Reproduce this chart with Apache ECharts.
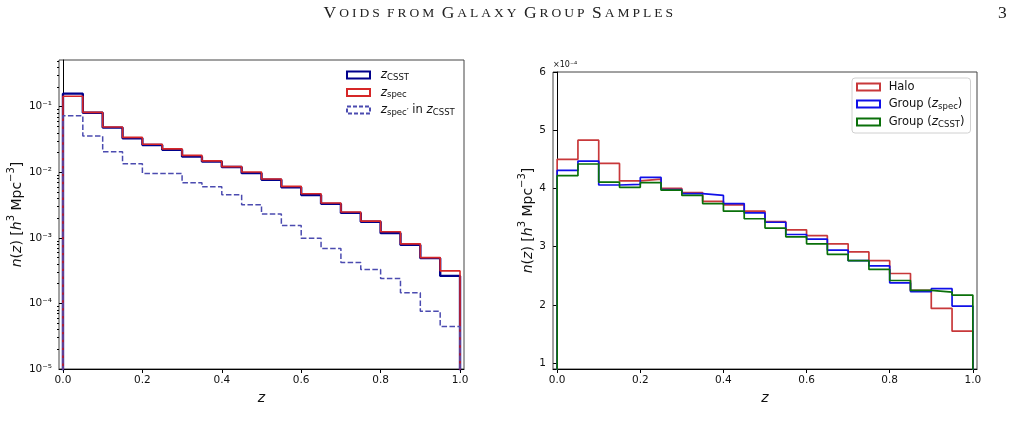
<!DOCTYPE html>
<html>
<head>
<meta charset="utf-8">
<script src="https://cdn.jsdelivr.net/npm/echarts@6/dist/echarts.min.js"></script>
<style>
  html, body { margin: 0; padding: 0; background: #fff; }
  #chart { width: 1017px; height: 436px; }
</style>
</head>
<body>
<div id="chart"></div>
<script>
// histogram bin edges (z)
const binEdges = [0, 0.05, 0.1, 0.15, 0.2, 0.25, 0.3, 0.35, 0.4, 0.45, 0.5,
                  0.55, 0.6, 0.65, 0.7, 0.75, 0.8, 0.85, 0.9, 0.95, 1.0];

// left panel, n(z) in h^3 Mpc^-3
const nCSST = [0.158, 0.081, 0.048, 0.033, 0.026, 0.022, 0.0173, 0.0146, 0.0120, 0.0097,
               0.0077, 0.0059, 0.0045, 0.0033, 0.0024, 0.00176, 0.00118, 0.00078, 0.00049, 0.000263];
const nSpec = [0.144, 0.082, 0.049, 0.034, 0.0267, 0.0227, 0.0181, 0.0149, 0.0122, 0.0101,
               0.0079, 0.0061, 0.0047, 0.0034, 0.00248, 0.0018, 0.00124, 0.00081, 0.00050, 0.000313];
const nSpecInCSST = [0.073, 0.0357, 0.0206, 0.0135, 0.0096, 0.0096, 0.0069, 0.0060, 0.00456, 0.0032,
                     0.00231, 0.00154, 0.00099, 0.00069, 0.00042, 0.00033, 0.000239, 0.000145, 0.000076, 0.0000443];

// right panel, n(z) in units of 1e-4 h^3 Mpc^-3
const nHalo = [4.50, 4.83, 4.43, 4.13, 4.16, 4.00, 3.93, 3.78, 3.72, 3.61,
               3.43, 3.29, 3.19, 3.05, 2.91, 2.76, 2.54, 2.25, 1.94, 1.55];
const nGroupSpec = [4.31, 4.47, 4.06, 4.07, 4.19, 3.98, 3.91, 3.88, 3.74, 3.58,
                    3.42, 3.21, 3.13, 2.94, 2.76, 2.67, 2.38, 2.23, 2.28, 1.98];
const nGroupCSST = [4.22, 4.42, 4.11, 4.02, 4.10, 3.97, 3.88, 3.74, 3.61, 3.48,
                    3.32, 3.17, 3.05, 2.87, 2.76, 2.61, 2.42, 2.25, 2.22, 2.17];

// ticks
const xTicks = [0, 0.2, 0.4, 0.6, 0.8, 1.0];
const logTicks = [1e-5, 1e-4, 1e-3, 1e-2, 1e-1];
const logMinorTicks = [];
for (let e = -5; e <= -1; e++) {
  for (let k = 2; k <= 9; k++) logMinorTicks.push(k * Math.pow(10, e));
}
const linTicks = [1, 2, 3, 4, 5, 6];

const headerText = 'Voids from Galaxy Group Samples';

// step outline of a histogram (matplotlib histtype='step')
function stepData(vals, floor) {
  const d = [[binEdges[0], floor]];
  vals.forEach((v, i) => d.push([binEdges[i], v]));
  const last = binEdges[vals.length];
  d.push([last, vals[vals.length - 1]]);
  d.push([last, floor]);
  return d;
}

const SUP = {'-': '\u207B', '0': '\u2070', '1': '\u00B9', '2': '\u00B2', '3': '\u00B3',
             '4': '\u2074', '5': '\u2075', '6': '\u2076', '7': '\u2077', '8': '\u2078', '9': '\u2079'};
function pow10Label(v) {
  const e = String(Math.round(Math.log10(v)));
  return '10' + e.split('').map(c => SUP[c]).join('');
}

// small caps header built from per-letter tokens
function smallCaps(s) {
  return s.split('').map(c => {
    if (c === ' ') return '{W| }';
    if (c === c.toUpperCase()) return '{L|' + c + '}';
    return '{S|' + c.toUpperCase() + '}';
  }).join('');
}

const FONT = 'DejaVu Sans';
const tickLabel = {fontFamily: FONT, fontSize: 10.5, color: '#111'};

const legendRich = {
  i: {fontFamily: FONT, fontStyle: 'italic', fontSize: 12, lineHeight: 14, verticalAlign: 'middle', color: '#111'},
  s: {fontFamily: FONT, fontSize: 8.5, lineHeight: 9, verticalAlign: 'bottom', color: '#111'},
  t: {fontFamily: FONT, fontSize: 11.5, lineHeight: 14, verticalAlign: 'middle', color: '#111'}
};
const legendNames = {
  zCSST: '{t|\u2002}{i|z}{s|CSST}',
  zSpec: '{t|\u2002}{i|z}{s|spec}',
  zSpecIn: '{t|\u2002}{i|z}{s|spec\u2032}{t| in }{i|z}{s|CSST}',
  Halo: '{t| Halo}',
  GroupSpec: '{t| Group (}{i|z}{s|spec}{t|)}',
  GroupCSST: '{t| Group (}{i|z}{s|CSST}{t|)}'
};

const yNameRich = {
  i: {fontFamily: FONT, fontStyle: 'italic', fontSize: 14, lineHeight: 18, verticalAlign: 'bottom', color: '#111'},
  t: {fontFamily: FONT, fontSize: 14, lineHeight: 18, verticalAlign: 'bottom', color: '#111'},
  p: {fontFamily: FONT, fontSize: 10, lineHeight: 11, verticalAlign: 'top', color: '#111'}
};
const yName = '{i|n}{t|(}{i|z}{t|) [}{i|h}{p|3}{t| Mpc}{p|\u22123}{t|]}';

function xAxisCfg(grid) {
  return {
    type: 'value', gridIndex: grid, min: -0.01, max: 1.01,
    name: 'z', nameLocation: 'middle', nameGap: 19,
    nameTextStyle: {fontFamily: FONT, fontStyle: 'italic', fontSize: 14, color: '#111'},
    axisLine: {lineStyle: {color: '#000', width: 1}},
    axisTick: {customValues: xTicks, length: 4, lineStyle: {color: '#000'}},
    axisLabel: Object.assign({customValues: xTicks, margin: 6, formatter: v => v.toFixed(1)}, tickLabel),
    splitLine: {show: false}
  };
}

function line(name, vals, floor, color, width, xi, yi, dashed) {
  return {
    name: name, type: 'line', xAxisIndex: xi, yAxisIndex: yi,
    data: stepData(vals, floor), step: 'end', showSymbol: false, symbol: 'none',
    clip: true, silent: true, animation: false,
    lineStyle: {color: color, width: width, type: dashed ? [5.5, 2.4] : 'solid'},
    itemStyle: {color: color}
  };
}

function legendItem(name, color, dashed) {
  return {name: name, icon: 'rect',
          itemStyle: {color: 'rgba(255,255,255,0)', borderColor: color, borderWidth: 2,
                      borderType: dashed ? [4, 2] : 'solid'}};
}

const headStyle = {fontFamily: 'Liberation Serif', fontWeight: 'normal', lineHeight: 20, color: '#222'};

const chart = echarts.init(document.getElementById('chart'), null, {renderer: 'canvas'});

chart.setOption({
  animation: false,
  title: [
    {text: smallCaps(headerText), left: 322, top: 3, padding: 0,
     textStyle: {fontWeight: 'normal', rich: {
       L: Object.assign({fontSize: 17.5, padding: [0, 1.5, 0, 1.5]}, headStyle),
       S: Object.assign({fontSize: 13.5, padding: [0, 1.5, 0, 1.5]}, headStyle),
       W: Object.assign({fontSize: 17.5}, headStyle)
     }}},
    {text: '3', left: 998, top: 3, padding: 0,
     textStyle: Object.assign({fontSize: 17.5}, headStyle)}
  ],
  grid: [
    {left: 59, top: 60, width: 405, height: 309, show: true, borderColor: '#444', borderWidth: 1, backgroundColor: '#fff'},
    {left: 553, top: 72, width: 424, height: 297, show: true, borderColor: '#444', borderWidth: 1, backgroundColor: '#fff'}
  ],
  xAxis: [xAxisCfg(0), xAxisCfg(1)],
  yAxis: [
    {
      type: 'log', logBase: 10, gridIndex: 0, position: 'left', min: 1e-5, max: 0.515,
      name: yName, nameLocation: 'middle', nameGap: 35, nameRotate: 90,
      nameTextStyle: {rich: yNameRich},
      axisLine: {lineStyle: {color: '#000', width: 1}},
      axisTick: {customValues: logTicks, length: 4, lineStyle: {color: '#000'}},
      axisLabel: Object.assign({customValues: logTicks, margin: 7, formatter: pow10Label}, tickLabel),
      splitLine: {show: false}, minorTick: {show: false}
    },
    {
      type: 'log', logBase: 10, gridIndex: 0, position: 'left', min: 1e-5, max: 0.515,
      axisLine: {show: false},
      axisTick: {customValues: logMinorTicks, length: 2, lineStyle: {color: '#000'}},
      axisLabel: {show: false}, splitLine: {show: false}
    },
    {
      type: 'value', gridIndex: 1, position: 'left', min: 0.9, max: 6,
      name: yName, nameLocation: 'middle', nameGap: 18, nameRotate: 90,
      nameTextStyle: {rich: yNameRich},
      axisLine: {lineStyle: {color: '#000', width: 1}},
      axisTick: {customValues: linTicks, length: 4, lineStyle: {color: '#000'}},
      axisLabel: Object.assign({customValues: linTicks, margin: 7}, tickLabel),
      splitLine: {show: false}
    },
    {
      type: 'value', gridIndex: 1, position: 'left', min: 0.9, max: 6,
      name: '\u00D710\u207B\u2074', nameLocation: 'end', nameGap: 3,
      nameTextStyle: {fontFamily: FONT, fontSize: 8, color: '#111', align: 'left', verticalAlign: 'bottom'},
      axisLine: {show: false}, axisTick: {show: false}, axisLabel: {show: false}, splitLine: {show: false}
    }
  ],
  legend: [
    {
      left: 346, top: 69, orient: 'vertical', itemWidth: 23, itemHeight: 7, itemGap: 4.5,
      padding: 0, selectedMode: false,
      formatter: n => legendNames[n],
      textStyle: {rich: legendRich},
      data: [legendItem('zCSST', '#00008b'), legendItem('zSpec', '#d62728'),
             legendItem('zSpecIn', '#4b4bb0', true)]
    },
    {
      left: 852, top: 78, orient: 'vertical', itemWidth: 23, itemHeight: 7, itemGap: 5,
      padding: [3, 6, 4, 4], selectedMode: false,
      backgroundColor: 'rgba(255,255,255,0.8)', borderColor: '#d0d0d0', borderWidth: 1, borderRadius: 3,
      formatter: n => legendNames[n],
      textStyle: {rich: legendRich},
      data: [legendItem('Halo', '#c8383a'), legendItem('GroupSpec', '#1010e8'),
             legendItem('GroupCSST', '#0a700a')]
    }
  ],
  series: [
    line('zCSST', nCSST, 1e-6, '#00008b', 2.4, 0, 0),
    line('zSpec', nSpec, 1e-6, '#d62728', 1.6, 0, 0),
    line('zSpecIn', nSpecInCSST, 1e-6, '#4b4bb0', 1.5, 0, 0, true),
    line('Halo', nHalo, 0, '#c8383a', 1.7, 1, 2),
    line('GroupSpec', nGroupSpec, 0, '#1010e8', 1.7, 1, 2),
    line('GroupCSST', nGroupCSST, 0, '#0a700a', 1.7, 1, 2)
  ]
});
</script>
</body>
</html>
